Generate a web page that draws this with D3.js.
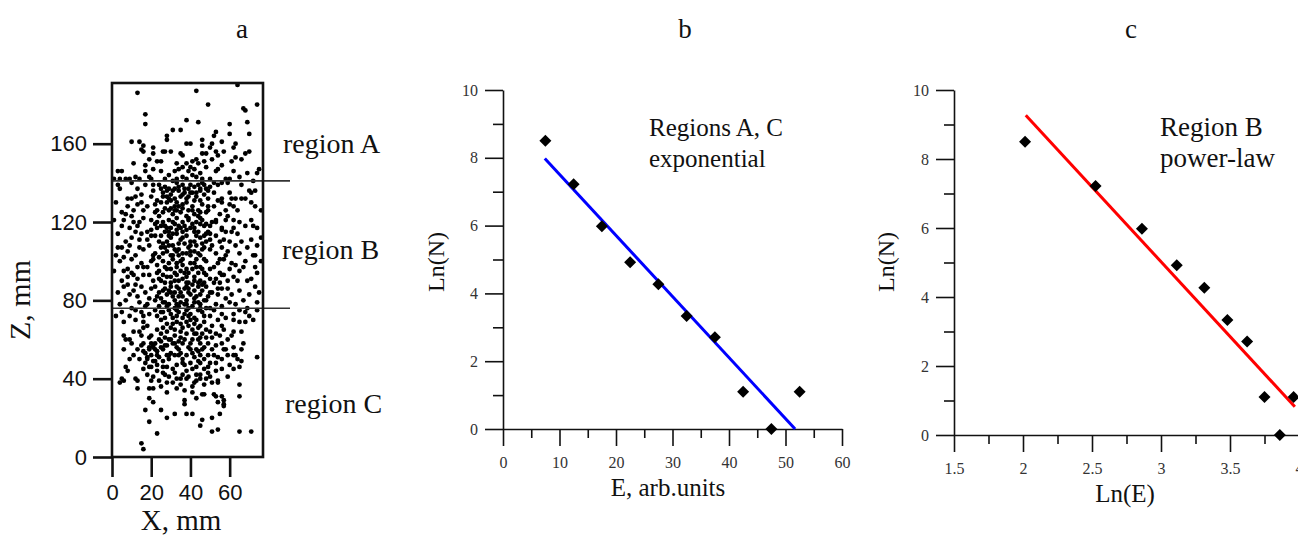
<!DOCTYPE html>
<html><head><meta charset="utf-8">
<script src="https://cdn.jsdelivr.net/npm/d3@7"></script>
<style>
html,body{margin:0;padding:0;background:#fff;}
svg{display:block;}
</style></head>
<body>
<svg id="chart" width="1298" height="538"></svg>
<script>
// ---------- DATA ----------
const panelTitles = ["a", "b", "c"];
const regionLabels = ["region A", "region B", "region C"];
const regionBounds = [141, 76];            // Z (mm) of the separating lines
const zTicks = [0, 40, 80, 120, 160];
const xTicksA = [0, 20, 40, 60];

// Panel a: event positions (X mm, Z mm)
const pointsRegionA = [[13,186],[43,187],[64,190],[49,180],[67,178],[68,177],[74,180],[17,175],[17,170],[38,172],[44,171],[69,171],[60,170],[31,167],[35,167],[53,166],[60,165],[70,165],[28,164],[28,162],[46,162],[52,164],[56,161],[10,161],[14,161],[38,160],[40,160],[51,160],[46,159],[63,160],[16,159],[15,157],[16,156],[21,158],[50,158],[53,156],[57,156],[62,158],[26,156],[27,156],[30,156],[21,155],[35,155],[36,154],[46,155],[48,155],[68,155],[70,156],
[3,146],[5,146],[1,142],[7,142],[4,142],[9,142],[11,150],[17,149],[19,152],[23,151],[21,147],[17,146],[19,143],[20,142],[14,142],[25,151],[32,146],[34,147],[36,148],[33,150],[38,150],[41,151],[43,152],[44,150],[40,148],[42,147],[41,144],[43,143],[38,142],[45,145],[46,142],[33,142],[36,143],[48,148],[54,147],[53,146],[51,152],[54,154],[61,151],[63,153],[62,146],[69,145],[74,145],[75,147],[60,142],[58,142],[50,142],[27,142],[31,141],[12,143],[25,146],[29,144],[39,146],[47,151],[56,149],[66,152],[72,141],[65,143]];

const pointsRegionB = [[4,137],[13,137],[27,138],[29,137],[32,137],[34,138],[36,139],[39,137],[42,138],[45,137],[47,139],[50,138],[54,139],[56,140],[59,140],[73,136],
[8,132],[10,132],[20,133],[26,135],[28,136],[30,134],[32,132],[34,136],[36,134],[38,132],[40,135],[43,133],[45,136],[47,134],[49,132],[52,135],[56,132],[61,132],[63,132],[66,132],[68,132],[71,135],
[15,130],[18,128],[22,129],[23,126],[16,126],[28,130],[29,126],[32,128],[33,126],[36,129],[39,126],[41,128],[44,126],[46,129],[49,126],[52,128],[56,130],[58,126],[62,128],[71,130],[5,125],[7,124],[11,126],
[5,118],[10,123],[11,120],[14,120],[16,122],[20,121],[22,119],[23,117],[26,120],[28,117],[29,115],[31,120],[33,122],[34,118],[36,120],[39,121],[40,117],[43,120],[45,122],[47,118],[49,115],[51,120],[53,120],[56,117],[59,123],[62,121],[65,120],[71,121],[74,117],[62,117],
[12,115],[15,114],[18,115],[20,113],[10,112],[27,115],[30,112],[33,114],[35,111],[28,110],[25,113],[42,115],[45,112],[48,114],[50,111],[53,113],[55,110],[46,109],[58,115],[61,115],[64,114],[71,111],[74,108],[3,114],[38,113],[40,110],
[3,107],[5,107],[8,105],[14,107],[16,106],[19,108],[22,104],[25,107],[28,105],[29,108],[31,103],[34,106],[36,104],[39,107],[42,105],[45,103],[47,107],[50,106],[53,104],[56,107],[59,105],[65,104],[69,107],[73,103],
[4,100],[8,96],[10,101],[15,99],[18,97],[21,101],[23,98],[26,100],[28,96],[31,101],[33,97],[35,100],[38,96],[40,99],[43,101],[45,97],[48,100],[50,96],[54,99],[57,101],[60,96],[63,98],[68,100],[73,97],
[5,90],[10,94],[13,91],[16,93],[21,90],[23,94],[25,90],[28,92],[30,89],[33,93],[34,90],[37,94],[39,89],[42,92],[45,90],[47,94],[50,91],[52,89],[56,93],[59,90],[62,92],[65,95],[69,90],[74,94],
[3,84],[6,87],[9,83],[11,85],[15,87],[17,84],[20,86],[23,82],[26,85],[28,83],[30,87],[32,84],[34,82],[37,86],[39,84],[42,85],[45,83],[48,87],[50,84],[54,83],[56,86],[61,83],[65,85],[70,83],[73,87],
[4,78],[7,80],[10,76],[14,79],[18,78],[22,80],[24,77],[27,79],[29,78],[32,80],[34,77],[37,78],[39,76],[42,79],[45,78],[47,80],[50,76],[53,78],[56,77],[60,79],[63,78],[69,76],[74,79],
[24,139],[31,136],[37,137],[44,139],[26,133],[35,133],[42,131],[48,137],[30,131],[21,136],[33,130],[38,130],[45,131],[27,127],[35,125],[42,124],[48,125],[24,123],[31,124],[38,123],[45,119],[27,118],[33,116],[41,119],[50,118],[20,116],[36,115],[44,115],[24,110],[31,108],[37,109],[43,108],[48,110],[26,104],[33,105],[40,103],[47,101],[21,103],[29,99],[36,98],[41,96],[24,95],[32,94],[44,94],[19,93],[27,89],[36,91],[41,88],[47,89],[22,87],[29,85],[34,86],[40,83],[46,85],[25,81],[31,82],[38,80],[43,82],[28,77],[35,79],[41,77],[19,81],[49,82],[53,91],[55,101],[57,111],[58,121],[60,129],[13,129],[9,117],[7,110],[12,103],[11,93],[55,94],[59,86],[64,90],[67,97],[66,110],[68,118],[64,126],[70,136],[2,130],[1,121],[2,103],[1,95],[76,112],[76,100],[75,84],[76,126],[60,135],[17,139],[10,140],[3,139],[66,139],[52,140],[14,111],[16,97],[54,86],[26,93],[38,87],[43,97],[31,114],[22,125],[49,128],[53,121],[39,133],[46,121],
[23,120],[29,121],[37,118],[34,103],[42,110],[38,92],[30,96],[44,87],[20,100],[25,130],[32,126],[47,113],[51,108],[35,84],[33,78],[44,79],[24,84],[40,105],[27,107],[45,125],[36,127],[28,133],[41,135],[57,93],[61,99],[63,108],[12,88],[8,92],[6,102],[15,134],[18,111],[58,81],[67,80],[71,91],[72,103],[72,118],[73,128],
[21,139],[25,137],[33,140],[40,139],[46,140],[49,136],[29,132],[37,135],[43,135],[23,131],[34,128],[41,126],[30,127],[26,125],[39,122],[44,123],[32,119],[25,118],[35,117],[42,117],[48,119],[38,116],[30,117],[22,113],[29,113],[36,112],[43,113],[50,114],[34,109],[40,108],[46,106],[26,109],[32,106],[38,104],[44,104],[24,102],[30,103],[36,101],[42,99],[27,97],[33,99],[39,94],[46,96],[30,92],[35,95],[42,90],[48,93],[24,91],[32,90],[38,89],[44,89],[27,86],[33,87],[39,86],[46,88],[30,84],[36,82],[42,81],[48,80],[26,79],[32,76],[38,78],[45,76],[51,84],[55,89],[52,97],[58,103],[60,110],[56,116],[55,124],[54,131],[12,133],[8,128],[6,121],[13,118],[9,108],[13,97],[6,95],[8,88],[13,82],[17,77]];

const pointsRegionC = [[5,74],[12,75],[15,74],[16,72],[19,73],[22,75],[25,74],[27,71],[30,73],[33,75],[34,74],[36,71],[38,75],[40,73],[44,75],[46,74],[48,76],[50,72],[52,75],[56,73],[62,73],[65,75],[68,74],[70,72],[62,70],[68,69],
[14,64],[16,66],[18,67],[19,61],[23,65],[25,63],[26,66],[27,61],[28,64],[31,68],[32,62],[33,69],[35,64],[38,69],[39,67],[41,65],[42,68],[43,63],[45,67],[45,61],[47,69],[50,64],[51,61],[53,63],[56,67],[57,65],[62,64],[66,64],[51,67],
[6,62],[7,60],[6,55],[15,57],[16,58],[19,56],[21,57],[22,55],[22,58],[25,59],[28,57],[30,60],[32,58],[34,59],[34,55],[36,58],[39,56],[40,58],[43,55],[45,58],[47,56],[49,58],[51,55],[53,57],[56,58],[58,55],[62,56],[66,55],[61,62],
[11,52],[14,50],[17,53],[18,51],[20,52],[21,49],[23,52],[26,49],[28,52],[29,50],[32,52],[34,52],[36,50],[38,52],[40,48],[42,51],[45,52],[47,50],[49,52],[52,52],[54,51],[56,50],[59,52],[62,52],[63,52],[64,50],[74,51],
[7,46],[8,44],[5,40],[12,40],[16,45],[18,42],[20,46],[21,41],[23,44],[26,43],[28,46],[29,41],[32,43],[33,40],[36,42],[38,44],[39,41],[43,46],[45,42],[45,40],[47,45],[49,43],[50,41],[53,44],[56,45],[59,41],[62,45],[65,46],[54,39],
[19,55],[21,56],[23,54],[18,50],[22,49],[24,51],[20,58],[16,54],[25,56],[19,46],[23,47],[17,48],
[25,70],[30,66],[35,68],[40,70],[44,66],[48,65],[29,60],[35,61],[41,60],[46,63],[38,63],[27,57],[33,56],[44,54],[30,53],[37,47],[41,45],[45,48],[50,48],[26,46],[33,47],[48,40],[43,42],[31,38],[24,39],[12,70],[9,72],[6,69],[16,69],[54,70],[58,71],[65,69],[59,60],[67,58],[55,62],[10,58],[13,55],[60,47],[66,49],[9,50],[4,38],[2,72],[72,70],[74,75],[37,73],[42,71],[31,71],[23,72],
[26,74],[29,75],[33,72],[39,72],[43,70],[47,72],[36,66],[32,65],[28,68],[42,63],[37,60],[31,58],[44,60],[48,61],[40,55],[35,53],[46,55],[26,55],[29,52],[41,53],[36,48],[44,49],[31,45],[38,40],[42,38],[47,37],[35,40],[27,42],[49,46],[53,48],[57,55],[24,60],[20,62],[15,62],[11,64],[9,60],
[6,39],[13,39],[20,39],[13,35],[19,35],[21,35],[25,36],[28,38],[28,33],[33,35],[35,37],[37,34],[41,36],[41,33],[43,30],[46,32],[47,32],[43,39],[51,38],[54,38],[52,32],[53,31],[56,31],[65,37],[65,31],[19,30],[21,28],[37,29],[37,27],[54,28],[57,29],[57,27],[57,26],[17,24],[25,24],[32,22],[38,22],[41,22],[55,22],[28,20],[19,18],[46,19],[51,20],[45,16],[23,12],[51,13],[54,14],[65,13],[71,13],[15,7],[16,4]];

// Panels b and c
const energyE = [7.5, 12.5, 17.5, 22.5, 27.5, 32.5, 37.5, 42.5, 47.5, 52.5];
const lnCounts = [8.5, 7.22, 5.98, 4.92, 4.27, 3.33, 2.71, 1.1, 0, 1.1];
const lnEnergy = [2.015, 2.526, 2.862, 3.114, 3.314, 3.481, 3.624, 3.750, 3.861, 3.961];
const expFitLine = [[7.4, 7.98], [51.7, 0]];
const powerFitLine = [[2.02, 9.27], [3.97, 0.82]];
const yTicksLn = [0, 2, 4, 6, 8, 10];
const yMinorLn = [1, 3, 5, 7, 9];
const xTicksE = [0, 10, 20, 30, 40, 50, 60];
const xMinorE = [5, 15, 25, 35, 45, 55];
const xTicksLnE = [1.5, 2, 2.5, 3, 3.5, 4];
const xMinorLnE = [1.75, 2.25, 2.75, 3.25, 3.75];
const noteB = ["Regions A, C", "exponential"];
const noteC = ["Region B", "power-law"];

// ---------- DRAW ----------
const svg = d3.select("#chart");
const serif = "'Liberation Serif', 'Times New Roman', serif";
const sans = "'Liberation Sans', Arial, sans-serif";

// titles
[[242, panelTitles[0]], [685, panelTitles[1]], [1131, panelTitles[2]]].forEach(([x, t]) => {
  svg.append("text").attr("x", x).attr("y", 38).attr("text-anchor", "middle")
    .attr("font-family", serif).attr("font-size", 27).attr("fill", "#111").text(t);
});

// ===== Panel a =====
const xA = d3.scaleLinear().domain([0, 77]).range([112, 263]);
const zA = d3.scaleLinear().domain([0, 191]).range([457, 83]);
const gA = svg.append("g");

const allPts = pointsRegionA.concat(pointsRegionB, pointsRegionC);
gA.append("g").selectAll("circle").data(allPts).join("circle")
  .attr("cx", d => xA(d[0])).attr("cy", d => zA(d[1])).attr("r", 2.4).attr("fill", "#000");

gA.append("g").selectAll("line").data(regionBounds).join("line")
  .attr("x1", xA(0)).attr("x2", xA(77) + 27)
  .attr("y1", d => zA(d)).attr("y2", d => zA(d))
  .attr("stroke", "#333").attr("stroke-width", 1.6);

gA.append("rect").attr("x", xA(0)).attr("y", zA(191))
  .attr("width", xA(77) - xA(0)).attr("height", zA(0) - zA(191))
  .attr("fill", "none").attr("stroke", "#111").attr("stroke-width", 2.6);

const axLeftA = gA.append("g").attr("transform", `translate(${xA(0)},0)`)
  .call(d3.axisLeft(zA).tickValues(zTicks).tickSize(19).tickPadding(6));
const axBotA = gA.append("g").attr("transform", `translate(0,${zA(0)})`)
  .call(d3.axisBottom(xA).tickValues(xTicksA).tickSize(20).tickPadding(7));
[axLeftA, axBotA].forEach(g => {
  g.select(".domain").remove();
  g.selectAll(".tick line").attr("stroke", "#111").attr("stroke-width", 2.6);
  g.selectAll(".tick text").attr("font-family", sans).attr("font-size", 22).attr("fill", "#111");
});

gA.append("text").attr("transform", "translate(30,300) rotate(-90)")
  .attr("text-anchor", "middle").attr("font-family", serif).attr("font-size", 30)
  .attr("fill", "#111").text("Z, mm");
gA.append("text").attr("x", 181).attr("y", 530).attr("text-anchor", "middle")
  .attr("font-family", serif).attr("font-size", 29).attr("fill", "#111").text("X, mm");

[[283, 153], [282, 259], [285, 413]].forEach(([x, y], i) => {
  gA.append("text").attr("x", x).attr("y", y).attr("font-family", serif)
    .attr("font-size", 28).attr("fill", "#111").text(regionLabels[i]);
});

// helper for b & c axes
function lnAxes(g, xs, ys, xMaj, xMin, fmt) {
  const x0 = xs.range()[0];
  g.append("g").attr("transform", `translate(${x0},0)`)
    .call(d3.axisLeft(ys).tickValues(yTicksLn).tickSize(18).tickSizeOuter(0).tickPadding(7));
  g.append("g").attr("transform", `translate(${x0},0)`)
    .call(d3.axisLeft(ys).tickValues(yMinorLn).tickSize(10).tickFormat(""))
    .select(".domain").remove();
  g.append("g").attr("transform", `translate(0,${ys(0)})`)
    .call(d3.axisBottom(xs).tickValues(xMaj).tickSize(17).tickSizeOuter(0).tickPadding(11).tickFormat(fmt));
  g.append("g").attr("transform", `translate(0,${ys(0)})`)
    .call(d3.axisBottom(xs).tickValues(xMin).tickSize(9).tickFormat(""))
    .select(".domain").remove();
  g.selectAll(".domain").attr("stroke", "#111").attr("stroke-width", 1.6);
  g.selectAll(".tick line").attr("stroke", "#111").attr("stroke-width", 1.6);
  g.selectAll(".tick text").attr("font-family", serif).attr("font-size", 16).attr("fill", "#333");
}

function diamonds(g, xs, ys, xv, yv) {
  g.append("g").selectAll("path").data(xv.map((x, i) => [x, yv[i]])).join("path")
    .attr("d", d3.symbol(d3.symbolSquare, 72))
    .attr("transform", d => `translate(${xs(d[0])},${ys(d[1])}) rotate(45)`)
    .attr("fill", "#000");
}

// ===== Panel b =====
const xB = d3.scaleLinear().domain([0, 60]).range([503, 842]);
const yB = d3.scaleLinear().domain([0, 10]).range([429, 90]);
const gB = svg.append("g");
lnAxes(gB, xB, yB, xTicksE, xMinorE, d3.format("d"));
gB.append("path").datum(expFitLine)
  .attr("d", d3.line().x(d => xB(d[0])).y(d => yB(d[1])))
  .attr("stroke", "#0000ff").attr("stroke-width", 3).attr("fill", "none");
diamonds(gB, xB, yB, energyE, lnCounts);
gB.append("text").attr("x", 668).attr("y", 496).attr("text-anchor", "middle")
  .attr("font-family", serif).attr("font-size", 25).attr("fill", "#111").text("E, arb.units");
gB.append("text").attr("transform", "translate(444,262) rotate(-90)").attr("text-anchor", "middle")
  .attr("font-family", serif).attr("font-size", 24).attr("fill", "#111").text("Ln(N)");
noteB.forEach((t, i) => gB.append("text").attr("x", 649).attr("y", 136 + i * 31)
  .attr("font-family", serif).attr("font-size", 25).attr("fill", "#111").text(t));

// ===== Panel c =====
const xC = d3.scaleLinear().domain([1.5, 4]).range([954, 1299]);
const yC = d3.scaleLinear().domain([0, 10]).range([435, 90]);
const gC = svg.append("g");
lnAxes(gC, xC, yC, xTicksLnE, xMinorLnE, d => String(d));
gC.append("path").datum(powerFitLine)
  .attr("d", d3.line().x(d => xC(d[0])).y(d => yC(d[1])))
  .attr("stroke", "#ff0000").attr("stroke-width", 3).attr("fill", "none");
diamonds(gC, xC, yC, lnEnergy, lnCounts);
gC.append("text").attr("x", 1125).attr("y", 502).attr("text-anchor", "middle")
  .attr("font-family", serif).attr("font-size", 25).attr("fill", "#111").text("Ln(E)");
gC.append("text").attr("transform", "translate(894,262) rotate(-90)").attr("text-anchor", "middle")
  .attr("font-family", serif).attr("font-size", 24).attr("fill", "#111").text("Ln(N)");
noteC.forEach((t, i) => gC.append("text").attr("x", 1160).attr("y", 136 + i * 31)
  .attr("font-family", serif).attr("font-size", 27).attr("fill", "#111").text(t));
</script>
</body></html>
